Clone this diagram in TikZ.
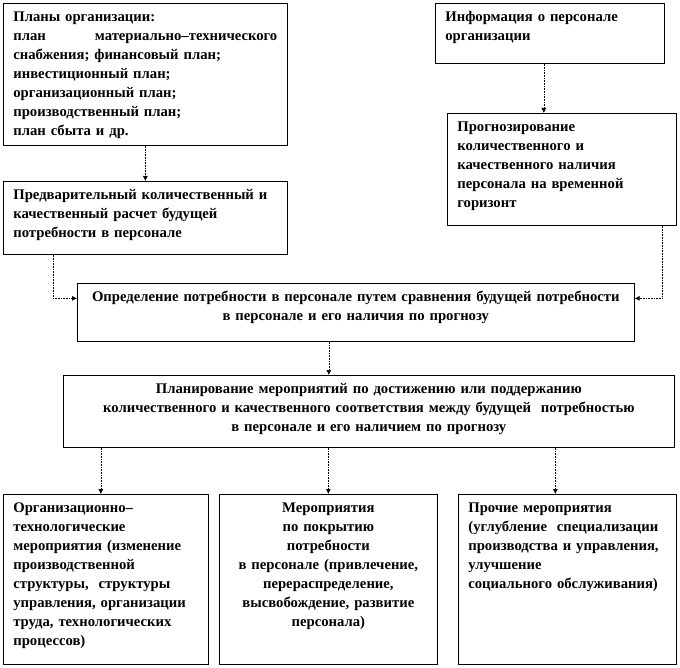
\documentclass[tikz,border=0pt]{standalone}
\usepackage{fontspec}
\setmainfont{Liberation Serif}
\usetikzlibrary{arrows.meta,positioning}

\begin{document}
\begin{tikzpicture}[
        x=1pt, y=-1pt,
        blok/.style 2 args={draw, line width=0.7pt, anchor=north west, inner xsep=10pt, inner ysep=5pt,
            text width=#1, text height=13pt, text depth=#2, align=left,
            font=\fontsize{14.7}{19}\selectfont\bfseries},
        strelka/.style={densely dotted, line width=0.6pt, -{Latex[length=5pt,width=5pt]}}
    ]
        \useasboundingbox (0,0) rectangle (680,668);

        % верхний ряд
        \node[blok={264pt}{119pt}] (plany) at (3,3) {Планы организации:\\
            план\hfill материально–технического\\
            снабжения; финансовый план;\\
            инвестиционный план;\\
            организационный план;\\
            производственный план;\\
            план сбыта и др.};
        \node[blok={209pt}{37pt}] (info) at (435,3) {Информация о персонале\\организации};
        \node[blok={209pt}{89pt}] (prognoz) at (447,113) {Прогнозирование\\количественного и\\качественного наличия\\персонала на временной\\горизонт};
        \node[blok={264pt}{50pt}] (predv) at (3,181) {Предварительный количественный и\\качественный расчет будущей\\потребности в персонале};

        % середина
        \node[blok={537pt}{35pt}, align=center] (opred) at (77,283) {Определение потребности в персонале путем сравнения будущей потребности\\в персонале и его наличия по прогнозу};
        \node[blok={591pt}{49pt}, align=center] (plan) at (63,375) {Планирование мероприятий по достижению или поддержанию\\количественного и качественного соответствия между будущей\ \ потребностью\\в персонале и его наличием по прогнозу};

        % нижний ряд
        \node[blok={185pt}{147pt}] (orgtex) at (3,494) {Организационно–\\технологические\\мероприятия (изменение\\производственной\\структуры,\ \ структуры\\управления, организации\\труда, технологических\\процессов)};
        \node[blok={198pt}{147pt}, align=center] (pokryt) at (219,494) {Мероприятия\\по покрытию\\потребности\\в персонале (привлечение,\\перераспределение,\\высвобождение, развитие\\персонала)};
        \node[blok={198pt}{147pt}] (prochie) at (458,494) {Прочие мероприятия\\(углубление\ \ специализации\\производства и управления,\\улучшение\\социального обслуживания)};

        \draw[strelka] (plany) -- (predv);
        \draw[strelka] ([xshift=-6pt]info.south) -- ([xshift=-6pt]info.south |- prognoz.north);
        \draw[strelka] ([xshift=-92pt]predv.south) |- ([yshift=14pt]opred.west);
        \draw[strelka] ([xshift=100pt]prognoz.south) |- ([yshift=14pt]opred.east);
        \draw[strelka] ([xshift=-27pt]opred.south) -- ([xshift=-27pt]opred.south |- plan.north);
        \draw[strelka] ([xshift=-5pt]orgtex.north |- plan.south) -- ([xshift=-5pt]orgtex.north);
        \draw[strelka] (pokryt.north |- plan.south) -- (pokryt);
        \draw[strelka] ([xshift=-12pt]prochie.north |- plan.south) -- ([xshift=-12pt]prochie.north);
    \end{tikzpicture}
\end{document}
